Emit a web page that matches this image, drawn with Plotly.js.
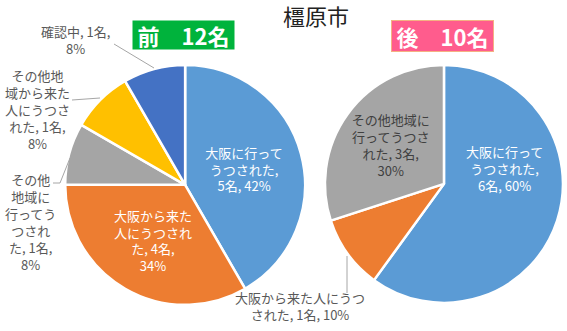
<!DOCTYPE html>
<html><head><meta charset="utf-8">
<script src="https://cdn.plot.ly/plotly-3.0.1.min.js"></script>
<style>body{margin:0;background:#fff}</style>
</head><body><div id="c" style="width:567px;height:331px"></div>
<script>
// 前 (before)
const beforeLabels = ["大阪に行ってうつされた","大阪から来た人にうつされた","その他地域に行ってうつされた","その他地域から来た人にうつされた","確認中"];
const beforeValues = [5,4,1,1,1];
const beforePct = ["42%","34%","8%","8%","8%"];
const beforeColors = ["#5B9BD5","#ED7D31","#A5A5A5","#FFC000","#4472C4"];
// 後 (after)
const afterLabels = ["大阪に行ってうつされた","大阪から来た人にうつされた","その他地域に行ってうつされた"];
const afterValues = [6,1,3];
const afterPct = ["60%","10%","30%"];
const afterColors = ["#5B9BD5","#ED7D31","#A5A5A5"];

const FONT = "'Noto Sans CJK JP', 'Noto Sans', sans-serif";

const beforeText = [
  "大阪に行って<br>うつされた,<br>" + beforeValues[0] + "名, " + beforePct[0],
  "大阪から来た<br>人にうつされ<br>た, " + beforeValues[1] + "名,<br>" + beforePct[1],
  "", "", ""
];
const afterText = [
  "",
  "",
  "その他地域に<br>行ってうつさ<br>れた, " + afterValues[2] + "名,<br>" + afterPct[2]
];

const traces = [
  {type:'pie', labels:beforeLabels, values:beforeValues, sort:false, direction:'clockwise', rotation:0,
   marker:{colors:beforeColors, line:{color:'#fff', width:2.5}},
   text:beforeText, textinfo:'text', textposition:'inside', insidetextorientation:'horizontal',
   textfont:{family:FONT, size:13, color:['#fff','#fff','#fff','#fff','#fff']},
   hoverinfo:'label+value+percent',
   domain:{x:[0.115,0.538], y:[0.079,0.804]}},
  {type:'pie', labels:afterLabels, values:afterValues, sort:false, direction:'clockwise', rotation:0,
   marker:{colors:afterColors, line:{color:'#fff', width:2.5}},
   text:afterText, textinfo:'text', textposition:'inside', insidetextorientation:'horizontal',
   textfont:{family:FONT, size:13, color:['#fff','#fff','#404040']},
   hoverinfo:'label+value+percent',
   domain:{x:[0.573,0.993], y:[0.085,0.804]}}
];

const outFont = {family:FONT, size:13, color:'#595959'};

function pa(text, x, y, font) {
  return {text:text, x:x/567, y:1-y/331, xref:'paper', yref:'paper', showarrow:false,
          font:font || outFont, xanchor:'center', yanchor:'middle', align:'center'};
}
const ann = [
  {text:'橿原市', x:316/567, y:1-15/331, xref:'paper', yref:'paper', showarrow:false,
   font:{family:FONT,size:22,color:'#222'}, xanchor:'center', yanchor:'middle'},
  {text:'<b>前　12名</b>', x:183.5/567, y:1-35/331, xref:'paper', yref:'paper', showarrow:false,
   font:{family:FONT,size:22,color:'#fff'}, bgcolor:'#00B33C', width:99, height:26, xanchor:'center', yanchor:'middle'},
  {text:'<b>後　10名</b>', x:442/567, y:1-36/331, xref:'paper', yref:'paper', showarrow:false,
   font:{family:FONT,size:22,color:'#fff'}, bgcolor:'#FF5C8D', bordercolor:'#F4B183', borderwidth:1, width:99, height:28, xanchor:'center', yanchor:'middle'},
  pa(beforeLabels[4] + ', ' + beforeValues[4] + '名,<br>' + beforePct[4], 75, 40),
  pa('その他地<br>域から来た<br>人にうつさ<br>れた, ' + beforeValues[3] + '名,<br>' + beforePct[3], 37, 109),
  pa('その他<br>地域に<br>行ってう<br>つされ<br>た, ' + beforeValues[2] + '名,<br>' + beforePct[2], 30, 222),
  pa('大阪から来た人にうつ<br>された, ' + afterValues[1] + '名, ' + afterPct[1], 300, 306),
  pa('大阪に行って<br>うつされた,<br>' + afterValues[0] + '名, ' + afterPct[0], 504, 168, {family:FONT, size:13, color:'#fff'})
];

const L = {color:'#A6A6A6', width:1};
function ln(x0,y0,x1,y1){return {type:'line', xref:'paper', yref:'paper', x0:x0/567, y0:1-y0/331, x1:x1/567, y1:1-y1/331, line:L};}
const shapes = [
  ln(114,44,154,68),
  ln(72,100,100,98),
  ln(53,183,60,183), ln(60,183,70,158),
  ln(347,256,347,293)
];

Plotly.newPlot('c', traces, {
  width:567, height:331, margin:{l:0,r:0,t:0,b:0}, showlegend:false,
  paper_bgcolor:'#fff', annotations:ann, shapes:shapes
}, {displayModeBar:false, staticPlot:true});
</script></body></html>
